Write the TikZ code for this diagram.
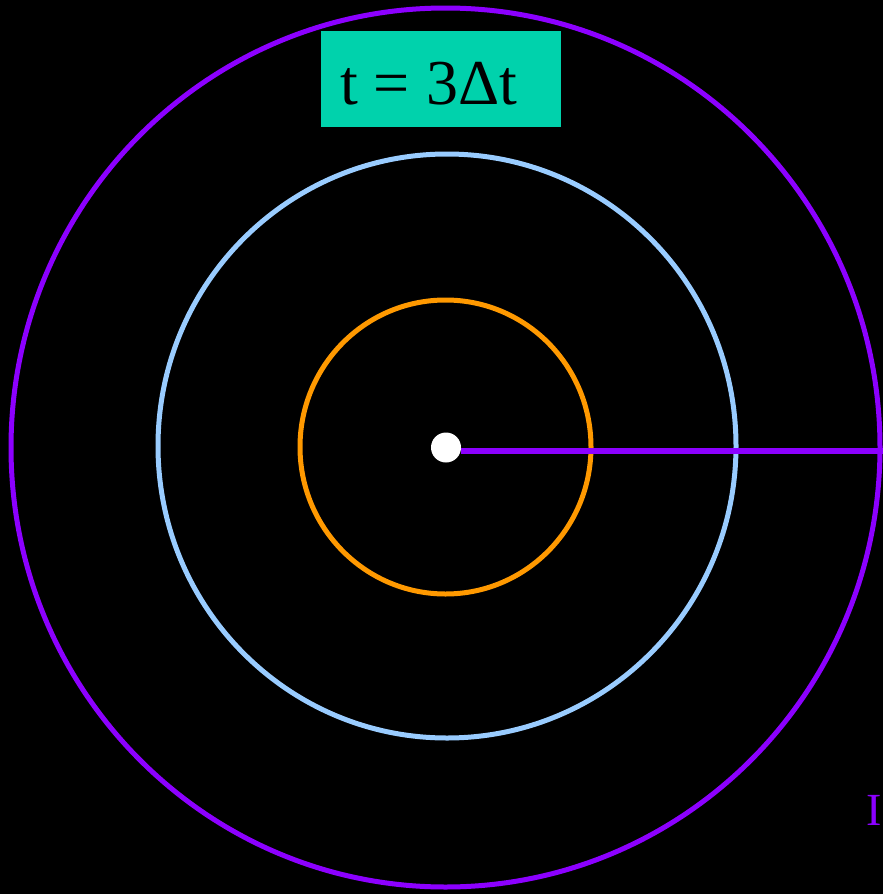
\documentclass[tikz,border=0pt]{standalone}
\usepackage{fontspec}
\setmainfont{Liberation Serif}
\definecolor{ringpurple}{RGB}{140,0,255}
\definecolor{ringblue}{RGB}{153,204,255}
\definecolor{ringorange}{RGB}{255,153,0}
\definecolor{labelteal}{RGB}{0,210,172}
\tikzset{ring/.style={line width=5pt}}
\begin{document}
\begin{tikzpicture}[x=1pt,y=-1pt]
\useasboundingbox[fill=black] (0,0) rectangle (883,894);
\coordinate (c) at (446,447.5);
\coordinate (e) at (883,451);
\draw[ring,ringpurple] (445.5,447.5) ellipse[x radius=434.5,y radius=439.5];
\draw[ring,ringblue] (447,446) ellipse[x radius=289,y radius=292];
\draw[ring,ringorange] (445.5,447) ellipse[x radius=145.5,y radius=147];
\node[circle,fill=white,minimum size=30pt,inner sep=0pt] (dot) at (c) {};
\draw[line width=6pt,ringpurple] (dot.east |- e) -- (e);
\node[fill=labelteal,minimum width=240pt,minimum height=96pt,inner sep=0pt] (lab) at (441,79) {};
\node[anchor=base west,inner sep=0pt,font=\fontsize{64}{64}\selectfont] (labtext) at (340,104) {t = 3Δt};
\node[anchor=base west,inner sep=0pt,text=ringpurple,font=\fontsize{46}{46}\selectfont] (I) at (866,825) {I};
\end{tikzpicture}
\end{document}
